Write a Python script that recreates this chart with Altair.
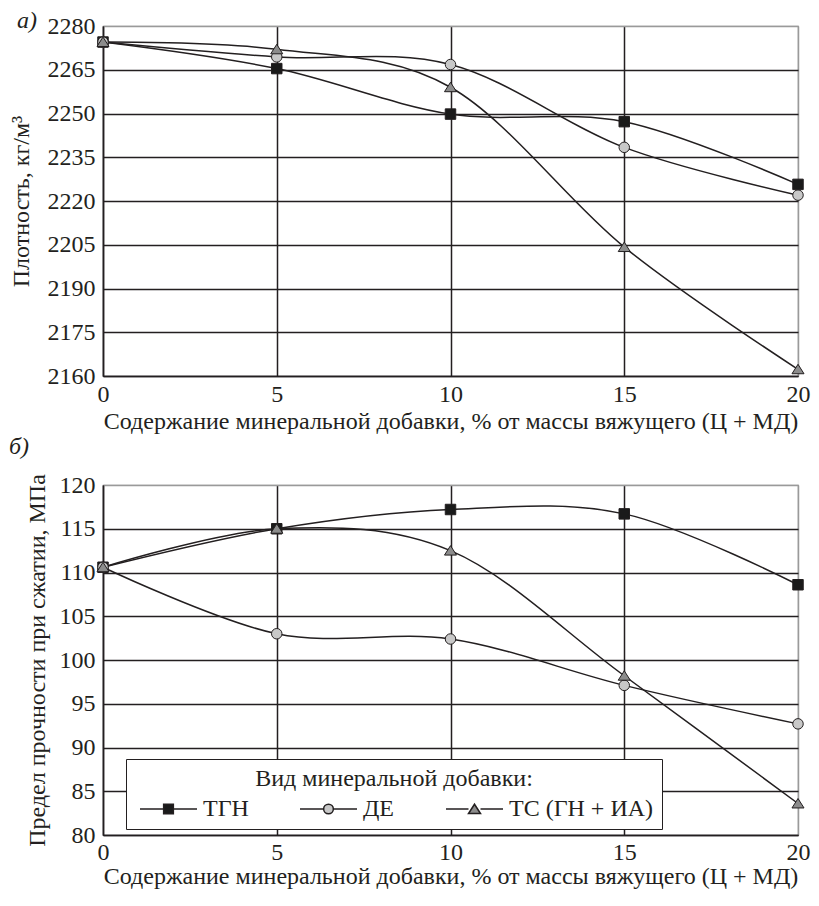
import altair as alt
import pandas as pd

# ---------------- data ----------------
x_vals = [0, 5, 10, 15, 20]
series_names = ["ТГН", "ДЕ", "ТС (ГН + ИА)"]

dens_tgn = [2274.5, 2265.4, 2249.8, 2247.2, 2225.7]
dens_de = [2274.5, 2269.4, 2266.8, 2238.4, 2222.0]
dens_ts = [2274.5, 2272.0, 2259.0, 2204.2, 2162.3]

str_tgn = [110.6, 115.0, 117.2, 116.7, 108.6]
str_de = [110.6, 103.0, 102.4, 97.1, 92.7]
str_ts = [110.6, 115.0, 112.5, 98.2, 83.6]

dens_ticks = [2160, 2175, 2190, 2205, 2220, 2235, 2250, 2265, 2280]
str_ticks = [80, 85, 90, 95, 100, 105, 110, 115, 120]
x_ticks = [0, 5, 10, 15, 20]

x_title = "Содержание минеральной добавки, % от массы вяжущего (Ц + МД)"
dens_title = "Плотность, кг/м³"
str_title = "Предел прочности при сжатии, МПа"
legend_title = "Вид минеральной добавки:"


def long_df(series_lists):
    rows = []
    for name, vals in zip(series_names, series_lists):
        for xv, yv in zip(x_vals, vals):
            rows.append({"x": xv, "y": yv, "series": name, "legend_series": name})
    return pd.DataFrame(rows)


dens_df = long_df([dens_tgn, dens_de, dens_ts])
str_df = long_df([str_tgn, str_de, str_ts])

# ---------------- style ----------------
FONT = "Liberation Serif"
INK = "#231f20"
FS = 24
W, H = 695, 350
fills = ["#1a1a1a", "#c8c8c8", "#8c8c8c"]
tri = "M0,-0.95L1.15,0.85H-1.15Z"
shapes = ["square", "circle", tri]

# legend symbols: line stub + marker (path units of 5 px, symbol size 100)
p_sq = "M-1.2,0H3.53M5.47,0H10.2M3.53,-0.97H5.47V0.97H3.53Z"
p_ci = ("M-1.2,0H3.53M5.47,0H10.2M5.47,0A0.97,0.97,0,1,1,3.53,0"
        "A0.97,0.97,0,1,1,5.47,0Z")
p_tr = "M-1.2,0H3.3M5.7,0H10.2M4.5,-0.95L5.7,0.9H3.3Z"
legend_shapes = [p_sq, p_ci, p_tr]


def panel(df, ytitle, ydomain, yticks, label, show_legend, ytitle_pad, title_dx,
          title_off, x_label_pad, x_title_pad):
    xenc = alt.X(
        "x:Q",
        scale=alt.Scale(domain=[0, 20], nice=False),
        axis=alt.Axis(
            values=x_ticks, title=x_title, titlePadding=x_title_pad, labelPadding=x_label_pad,
            format="d",
            gridColor={"condition": {"test": "datum.value === 20", "value": "#9a9a9a"}, "value": INK},
        ),
    )
    yenc = alt.Y(
        "y:Q",
        scale=alt.Scale(domain=ydomain, nice=False, zero=False),
        axis=alt.Axis(
            values=yticks, title=ytitle, titlePadding=ytitle_pad, labelPadding=8, format="d",
            gridColor={"condition": {"test": "datum.value === %s" % ydomain[1], "value": "#9a9a9a"}, "value": INK},
        ),
    )

    base = alt.Chart(df)
    lines = base.mark_line(interpolate="cardinal", color=INK, strokeWidth=1.5).encode(
        x=xenc, y=yenc, detail="series:N"
    )
    points = base.mark_point(filled=True, size=110, stroke=INK, strokeWidth=1, opacity=1).encode(
        x=xenc,
        y=yenc,
        shape=alt.Shape("series:N", scale=alt.Scale(domain=series_names, range=shapes), legend=None),
        fill=alt.Fill("series:N", scale=alt.Scale(domain=series_names, range=fills), legend=None),
    )
    layers = [lines, points]
    if show_legend:
        legend = alt.Legend(
            title=legend_title,
            orient="none",
            legendX=23,
            legendY=274,
            direction="horizontal",
            titleAnchor="middle",
            titleFont=FONT,
            titleFontSize=FS,
            titleFontWeight="normal",
            titleColor=INK,
            titlePadding=6,
            titleLimit=600,
            labelFont=FONT,
            labelFontSize=FS,
            labelColor=INK,
            labelLimit=400,
            symbolSize=100,
            symbolOpacity=1,
            symbolStrokeColor=INK,
            symbolStrokeWidth=1.5,
            labelOffset=45,
            columnPadding=45,
            padding=8,
            strokeColor=INK,
            fillColor="white",
        )
        # invisible, tiny carrier marks that only feed the legend
        carrier = base.mark_point(filled=True, size=1, strokeWidth=0, opacity=0).encode(
            x=xenc,
            y=yenc,
            shape=alt.Shape("legend_series:N", scale=alt.Scale(domain=series_names, range=legend_shapes), legend=legend),
            fill=alt.Fill("legend_series:N", scale=alt.Scale(domain=series_names, range=fills), legend=legend),
            stroke=alt.Stroke("legend_series:N", scale=alt.Scale(domain=series_names, range=[INK, INK, INK]), legend=None),
        )
        layers.append(carrier)
    out = alt.layer(*layers)
    if show_legend:
        out = out.resolve_scale(shape="independent", fill="independent", stroke="independent")
    return out.properties(
        width=W,
        height=H,
        title=alt.TitleParams(
            text=label, anchor="start", frame="bounds", font=FONT, fontSize=FS,
            fontStyle="italic", fontWeight="normal", color=INK, dx=title_dx, offset=title_off,
        ),
    )


top = panel(dens_df, dens_title, [2160, 2280], dens_ticks, "а)", False, 14, 8, -19, 6, 3)
bottom = panel(str_df, str_title, [80, 120], str_ticks, "б)", True, 10, -16, 14, 5, 0)

chart = (
    alt.vconcat(top, bottom, spacing=0)
    .resolve_scale(fill="independent", shape="independent", stroke="independent")
    .resolve_legend(fill="independent", shape="independent", stroke="independent")
    .properties(padding=0, background="white")
    .configure_view(stroke="#9a9a9a", strokeWidth=1.2)
    .configure_axis(
        labelFont=FONT, labelFontSize=FS, labelColor=INK,
        titleFont=FONT, titleFontSize=FS, titleFontWeight="normal", titleColor=INK,
        ticks=False, domainColor=INK, domainWidth=1.5,
        gridWidth=1.5, gridOpacity=1, labelFlush=False, labelOverlap=False,
    )
)

chart.save("out.html", embed_options={"renderer": "svg", "actions": False})
